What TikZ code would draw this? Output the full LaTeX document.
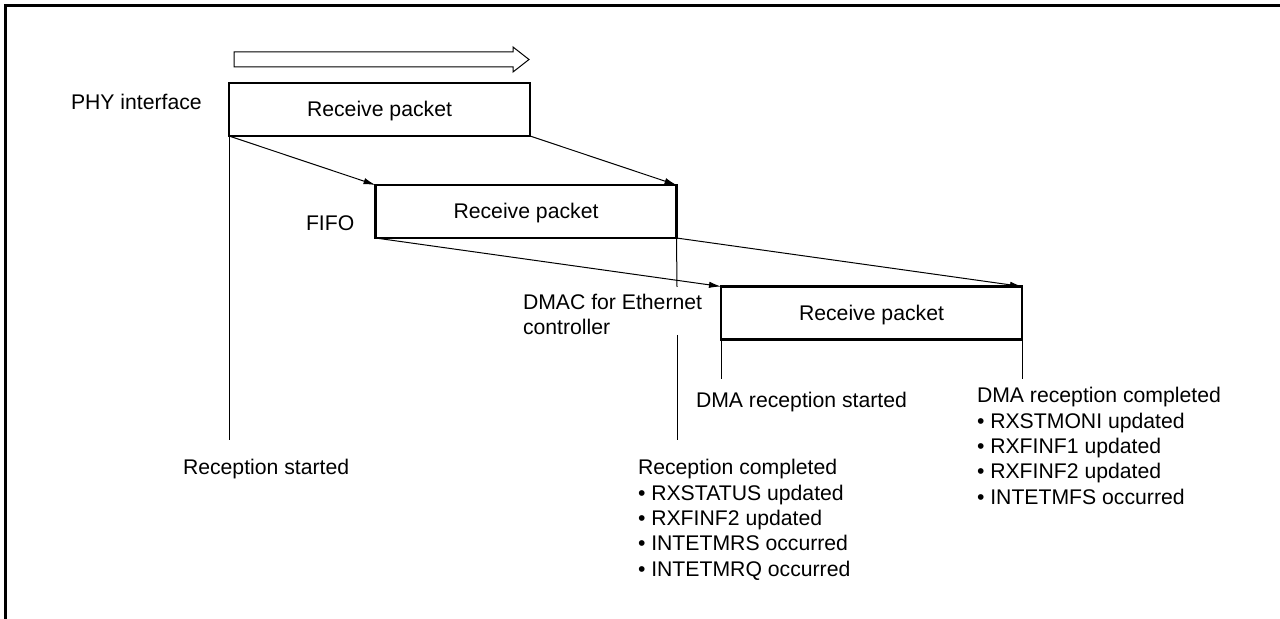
\documentclass[tikz,border=0pt]{standalone}
\usepackage{fontspec}
\setmainfont{Liberation Sans}
\usetikzlibrary{arrows.meta}
\begin{document}
\begin{tikzpicture}[x=0.5pt,y=-0.5pt,
  font=\fontsize{10.6}{12.65}\selectfont,
  frameline/.style={line width=1.5pt},
  pkt/.style={draw, line width=1.2pt, minimum width=150.5pt, minimum height=26.5pt,
    inner sep=0pt, outer sep=0pt, text height=0.716em, text depth=0pt},
  lbl/.style={inner sep=0pt, outer sep=0pt},
  flow/.style={line width=0.5pt, -{Latex[length=6pt,width=3.2pt]}},
  tick/.style={line width=0.5pt}
]
\useasboundingbox (0,0) rectangle (1280,619);
% frame (left and top edges)
\draw[frameline] (5,630) -- (5,6) -- (1290,6);

% hollow direction arrow
\draw[line width=0.5pt] (234,52) -- (513,52) -- (513,47) -- (529,59.5) -- (513,72)
  -- (513,67) -- (234,67) -- cycle;

% packet boxes
\node[pkt] (phy) at (379.5,109.5) {Receive packet};
\node[pkt] (fifo) at (526,211.5) {Receive packet};
\node[pkt] (dmac) at (871.5,313) {Receive packet};

% labels
\node[lbl, anchor=base west] (phyl) at (71,109.5) {PHY interface};
\node[lbl, anchor=base west] (fifol) at (306,230.5) {FIFO};
\node[lbl, anchor=north west, align=left] (dmacl) at (523,294) {DMAC for Ethernet\\controller};

% transfer arrows
\draw[flow] (phy.south west) -- (fifo.north west);
\draw[flow] (phy.south east) -- (fifo.north east);
\draw[flow] (fifo.south west) -- (dmac.north west);
\draw[flow] (fifo.south east) -- (dmac.north east);

% marker lines
\coordinate (rsEnd) at (229,440);
\coordinate (rcA) at (677,287);
\coordinate (rcB) at (677,335);
\coordinate (rcEnd) at (677,440);
\coordinate (dsEnd) at (721,379);
\coordinate (dcEnd) at (1022,379);
\draw[tick] (phy.south west) -- (rsEnd);
\draw[tick] (fifo.south east) -- (rcA);
\draw[tick] (rcB) -- (rcEnd);
\draw[tick] (dmac.south west) -- (dsEnd);
\draw[tick] (dmac.south east) -- (dcEnd);

% event texts
\node[lbl, anchor=base west] (rs) at (183,474.5) {Reception started};
\node[lbl, anchor=base west] (ds) at (696,407.5) {DMA reception started};
\node[lbl, anchor=north west, align=left] (rc) at (638,459.5)
  {Reception completed\\• RXSTATUS updated\\• RXFINF2 updated\\• INTETMRS occurred\\• INTETMRQ occurred};
\node[lbl, anchor=north west, align=left] (dc) at (977,387.5)
  {DMA reception completed\\• RXSTMONI updated\\• RXFINF1 updated\\• RXFINF2 updated\\• INTETMFS occurred};
\end{tikzpicture}
\end{document}
